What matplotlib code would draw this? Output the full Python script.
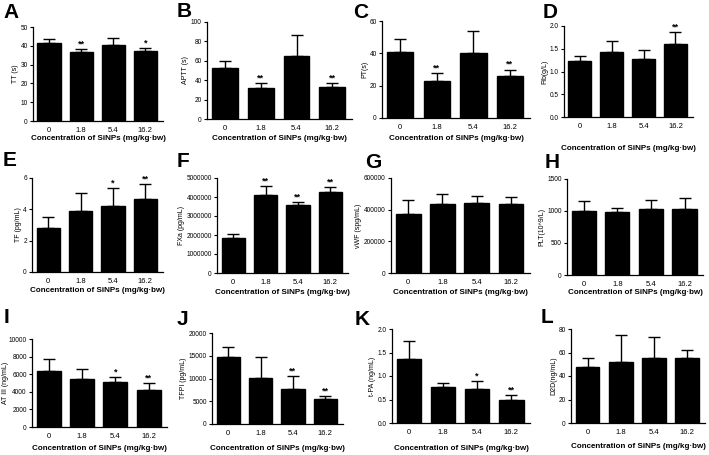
import matplotlib
matplotlib.use("Agg")
import matplotlib.pyplot as plt

plt.rcParams['font.family'] = ['Liberation Sans', 'DejaVu Sans']

# dose groups (mg/kg·bw)
doses = ['0', '1.8', '5.4', '16.2']
xlabel_text = 'Concentration of SiNPs (mg/kg\u00b7bw)'

# ---- data (mean, SD, significance) ----
tt_mean = [41.5, 36.8, 40.5, 37.3]
tt_sd = [2.0, 1.5, 3.5, 1.3]
tt_sig = ['', '**', '', '*']

aptt_mean = [53, 31.5, 65, 33]
aptt_sd = [7, 6, 22, 4]
aptt_sig = ['', '**', '', '**']

pt_mean = [41, 23, 40.5, 26]
pt_sd = [8, 5, 13.5, 4]
pt_sig = ['', '**', '', '**']

fib_mean = [1.22, 1.43, 1.28, 1.61]
fib_sd = [0.11, 0.23, 0.20, 0.25]
fib_sig = ['', '', '', '**']

tf_mean = [2.8, 3.9, 4.2, 4.65]
tf_sd = [0.7, 1.15, 1.15, 0.95]
tf_sig = ['', '', '*', '**']

fxa_mean = [1850000, 4080000, 3600000, 4250000]
fxa_sd = [180000, 480000, 130000, 260000]
fxa_sig = ['', '**', '**', '**']

vwf_mean = [375000, 435000, 443000, 437000]
vwf_sd = [88000, 62000, 42000, 45000]
vwf_sig = ['', '', '', '']

plt_mean = [1000, 985, 1035, 1025]
plt_sd = [155, 60, 140, 185]
plt_sig = ['', '', '', '']

at3_mean = [6350, 5500, 5100, 4200]
at3_sd = [1350, 1100, 550, 800]
at3_sig = ['', '', '*', '**']

tfpi_mean = [14700, 10100, 7600, 5400]
tfpi_sd = [2200, 4700, 3000, 700]
tfpi_sig = ['', '', '**', '**']

tpa_mean = [1.37, 0.77, 0.72, 0.49]
tpa_sd = [0.37, 0.09, 0.18, 0.11]
tpa_sig = ['', '', '*', '**']

d2d_mean = [48, 52, 55, 55.5]
d2d_sd = [7.5, 23, 18, 6.5]
d2d_sig = ['', '', '', '']

W, H = 709, 455
fig = plt.figure(figsize=(W / 100, H / 100), dpi=100)
fig.patch.set_facecolor('white')


def panel(letter, letter_xy, rect, mean, sd, sig, ylabel, yticks, xlab_gap,
          fmt=None, ylab_dx=None):
    # rect is (left, top, right, bottom) in pixels, xlab_gap = axis to label centre
    l, t, r, b = rect
    ax = fig.add_axes([l / W, 1 - b / H, (r - l) / W, (b - t) / H])
    x = range(len(doses))
    ax.bar(x, mean, width=0.72, color='black', edgecolor='black', zorder=2)
    ax.errorbar(x, mean, yerr=[[0] * len(sd), sd], fmt='none', ecolor='black',
                elinewidth=1.0, capsize=4, capthick=1.0, zorder=1)
    top = yticks[-1]
    for xi, m, s, st in zip(x, mean, sd, sig):
        if st:
            ax.text(xi, m + s + top * 0.005, st, ha='center', va='bottom',
                    fontsize=6.5, fontweight='bold')
    ax.set_ylim(0, top)
    ax.set_xlim(-0.5, 3.55)
    ax.set_yticks(yticks)
    if fmt:
        ax.set_yticklabels([fmt(v) for v in yticks])
    ax.set_xticks(list(x))
    ax.set_xticklabels(doses)
    ax.tick_params(axis='y', labelsize=4.7, length=2.5, width=0.8, pad=1.2)
    ax.tick_params(axis='x', labelsize=5.5, length=0, pad=4)
    for s in ['top', 'right']:
        ax.spines[s].set_visible(False)
    for s in ['left', 'bottom']:
        ax.spines[s].set_linewidth(0.9)
    ax.set_ylabel(ylabel, fontsize=5, labelpad=1.2)
    if ylab_dx is not None:
        ax.yaxis.set_label_coords(-ylab_dx / (r - l), 0.5)
    ax.set_xlabel(xlabel_text, fontsize=5.8, fontweight='bold', va='center')
    ax.xaxis.set_label_coords(0.5, -xlab_gap / (b - t))
    fig.text(letter_xy[0] / W, 1 - letter_xy[1] / H, letter, fontsize=15,
             fontweight='bold', ha='left', va='top')
    return ax


panel('A', (3, 3), (33, 27, 163, 121), tt_mean, tt_sd, tt_sig, 'TT (s)',
      [0, 10, 20, 30, 40, 50], 17)
panel('B', (177, 2), (207, 22, 352, 119), aptt_mean, aptt_sd, aptt_sig, 'APTT (s)',
      [0, 20, 40, 60, 80, 100], 19)
panel('C', (353, 3), (382, 21, 530, 118), pt_mean, pt_sd, pt_sig, 'PT(s)',
      [0, 20, 40, 60], 20)
panel('D', (543, 3), (564, 26, 693, 117), fib_mean, fib_sd, fib_sig, 'Fib(g/L)',
      [0, 0.5, 1.0, 1.5, 2.0], 31, fmt=lambda v: f'{v:.1f}')

panel('E', (3, 151), (32, 178, 163, 272), tf_mean, tf_sd, tf_sig, 'TF (pg/mL)',
      [0, 2, 4, 6], 18)
panel('F', (177, 152), (217, 178, 348, 273), fxa_mean, fxa_sd, fxa_sig, 'FXa (pg/mL)',
      [0, 1000000, 2000000, 3000000, 4000000, 5000000], 20, fmt=lambda v: f'{int(v)}')
panel('G', (365, 153), (391, 178, 530, 273), vwf_mean, vwf_sd, vwf_sig, 'vWF (spg/mL)',
      [0, 200000, 400000, 600000], 19, fmt=lambda v: f'{int(v)}')
panel('H', (545, 153), (567, 179, 703, 275), plt_mean, plt_sd, plt_sig, 'PLT(10^9/L)',
      [0, 500, 1000, 1500], 17)

panel('I', (4, 308), (32, 339, 167, 427), at3_mean, at3_sd, at3_sig, 'AT III (ng/mL)',
      [0, 2000, 4000, 6000, 8000, 10000], 22, ylab_dx=23)
panel('J', (177, 310), (212, 333, 343, 424), tfpi_mean, tfpi_sd, tfpi_sig, 'TFPI (pg/mL)',
      [0, 5000, 10000, 15000, 20000], 24)
panel('K', (355, 310), (392, 329, 530, 423), tpa_mean, tpa_sd, tpa_sig, 't-PA (ng/mL)',
      [0, 0.5, 1.0, 1.5, 2.0], 26, fmt=lambda v: f'{v:.1f}')
panel('L', (541, 308), (571, 329, 705, 423), d2d_mean, d2d_sd, d2d_sig, 'D2D(ng/mL)',
      [0, 20, 40, 60, 80], 24)

fig.savefig('out.png', dpi=100, facecolor='white')
